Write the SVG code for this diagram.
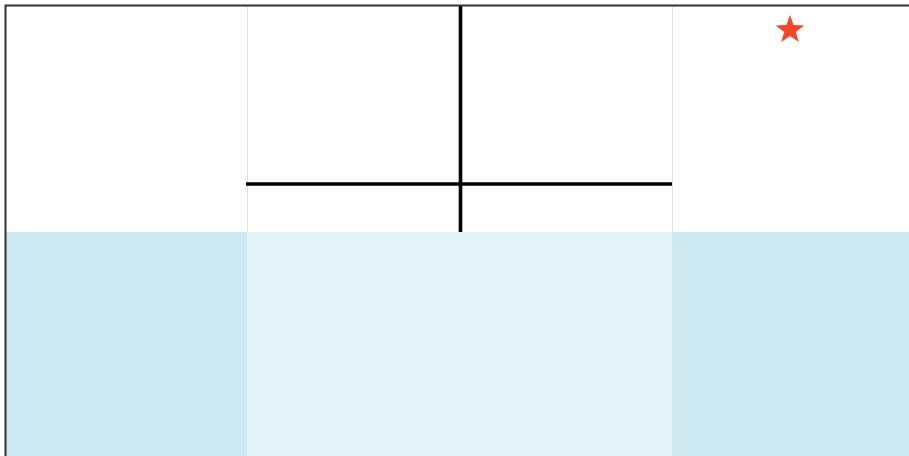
<svg xmlns="http://www.w3.org/2000/svg" width="909" height="456" viewBox="0 0 909 456">
<style>
.dark{fill:#cce9f1}
.light{fill:#e4f3f8}
.grid{stroke:#e2e2e2;stroke-width:1;fill:none}
.wall{stroke:#000;stroke-width:3.6;fill:none}
</style>
<rect x="0" y="0" width="909" height="456" fill="#fff"/>
<g id="water">
<rect class="dark" x="6" y="232" width="241" height="224"/>
<rect class="light" x="247" y="232" width="425" height="224"/>
<rect class="dark" x="672" y="232" width="237" height="224"/>
</g>
<g id="grid">
<line class="grid" x1="247.5" y1="6" x2="247.5" y2="232"/>
<line class="grid" x1="672.5" y1="6" x2="672.5" y2="232"/>
</g>
<g id="connectors">
<line class="wall" x1="246" y1="184" x2="672" y2="184"/>
<line class="wall" x1="460.5" y1="5" x2="460.5" y2="232"/>
</g>
<g id="frame">
<path d="M5.5 456 V5.5 H909" stroke="#333" stroke-width="2" fill="none"/>
</g>
<g id="star">
<polygon fill="#f4472a" points="790,15 793.6,25.1 804.3,25.4 795.8,31.9 798.8,42.1 790,36 781.2,42.1 784.2,31.9 775.7,25.4 786.4,25.1"/>
</g>
</svg>
